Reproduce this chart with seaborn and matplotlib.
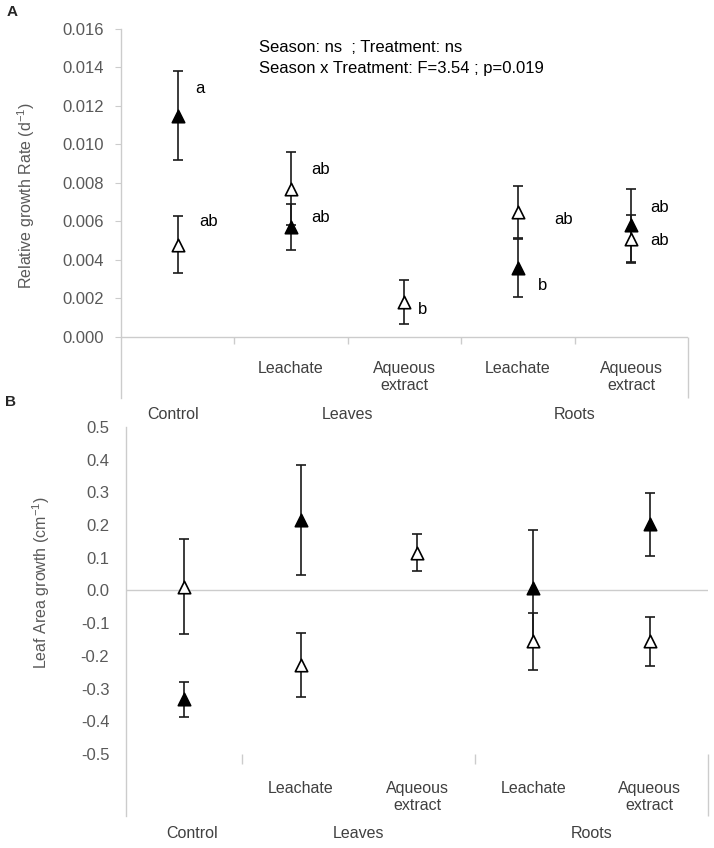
import numpy as np
import pandas as pd
import matplotlib
matplotlib.use("Agg")
import matplotlib.pyplot as plt
import matplotlib.transforms as mtrans
import seaborn as sns

sns.set_style("white")
plt.rcParams['font.family'] = ['Liberation Sans', 'DejaVu Sans']
plt.rcParams['mathtext.fontset'] = 'custom'
plt.rcParams['mathtext.rm'] = 'Liberation Sans'
plt.rcParams['axes.unicode_minus'] = False

# ---------------- data ----------------
sub_labels = ["", "Leachate", "Aqueous\nextract", "Leachate", "Aqueous\nextract"]
group_labels = ["Control", "Leaves", "Roots"]
positions = [0, 1, 2, 3, 4]

A_filled_mean = [0.0115, 0.0057, np.nan, 0.0036, 0.0058]
A_filled_se = [0.0023, 0.0012, np.nan, 0.0015, 0.0019]
A_open_mean = [0.0048, 0.0077, 0.0018, 0.0065, 0.0051]
A_open_se = [0.0015, 0.0019, 0.00115, 0.00135, 0.00125]

B_filled_mean = [-0.333, 0.215, np.nan, 0.006, 0.202]
B_filled_se = [0.053, 0.168, np.nan, 0.18, 0.097]
B_open_mean = [0.012, -0.229, 0.116, -0.156, -0.156]
B_open_se = [0.145, 0.098, 0.058, 0.087, 0.075]

A_letters = ["a", "ab", "ab", "ab", "b", "ab", "b", "ab", "ab"]
A_letter_xy = [(0.20, 0.0129), (0.27, 0.0060), (1.26, 0.0087), (1.26, 0.0062),
               (2.16, 0.00145), (3.40, 0.0061), (3.22, 0.00265),
               (4.25, 0.00675), (4.25, 0.0050)]

A_yticks = [0.000, 0.002, 0.004, 0.006, 0.008, 0.010, 0.012, 0.014, 0.016]
B_yticks = [-0.5, -0.4, -0.3, -0.2, -0.1, 0.0, 0.1, 0.2, 0.3, 0.4, 0.5]

W, H = 714, 848
fig = plt.figure(figsize=(W / 100, H / 100), dpi=100)

def fy(px):
    return 1 - px / H

axA = fig.add_axes([121 / W, fy(398), 567 / W, 369 / H])
axB = fig.add_axes([126 / W, fy(816), 582 / W, 389 / H])

tick_col = "#595959"
spine_col = "#cccccc"
lab_col = "#404040"

def draw_points(ax, fm, fs, om, os_):
    df_f = pd.DataFrame({"x": positions, "m": fm, "se": fs})
    df_o = pd.DataFrame({"x": positions, "m": om, "se": os_})
    for df in (df_o, df_f):
        d = df.dropna()
        ax.errorbar(d["x"], d["m"], yerr=d["se"], fmt="none", ecolor="#1a1a1a",
                    elinewidth=1.2, capsize=3.5, capthick=1.2, zorder=2)
    sns.scatterplot(data=df_o.dropna(), x="x", y="m", marker="^", s=80,
                    color="white", edgecolor="black", linewidth=1.2, ax=ax, zorder=3)
    sns.scatterplot(data=df_f.dropna(), x="x", y="m", marker="^", s=80,
                    color="black", edgecolor="black", linewidth=1.2, ax=ax, zorder=4)

def style_axes(ax, yticks, fmt, ylim, ticklen, pad):
    ax.set_xlim(-0.5, 4.5)
    ax.set_ylim(*ylim)
    ax.set_yticks(yticks)
    ax.set_yticklabels([fmt % v for v in yticks], fontsize=12, color=tick_col)
    ax.set_xticks([])
    ax.set_xlabel("")
    for s in ["top", "right", "bottom"]:
        ax.spines[s].set_visible(False)
    ax.spines["left"].set_color(spine_col)
    ax.spines["left"].set_linewidth(1.0)
    ax.tick_params(axis="y", length=ticklen, color=spine_col, pad=pad, left=True)
    ax.axhline(0, color=spine_col, lw=1.0, zorder=1)
    ax.set_facecolor("none")

def cat_labels(ax, sub_top_px, grp_top_px, ctrl_x):
    tr = mtrans.blended_transform_factory(ax.transData, fig.transFigure)
    for p, lab in zip(positions, sub_labels):
        if lab:
            ax.text(p, fy(sub_top_px), lab, transform=tr, ha="center", va="top",
                    fontsize=11.5, color=lab_col, linespacing=1.15, clip_on=False)
    for p, lab in zip([ctrl_x, 1.5, 3.5], group_labels):
        ax.text(p, fy(grp_top_px), lab, transform=tr, ha="center", va="top",
                fontsize=11.5, color=lab_col, clip_on=False)

# ---------------- panel A ----------------
draw_points(axA, A_filled_mean, A_filled_se, A_open_mean, A_open_se)
style_axes(axA, A_yticks, "%.3f", (-0.00317, 0.016), 4, 8)
axA.set_ylabel(r"Relative growth Rate (d$^{\mathregular{-1}}$)", fontsize=11.5, color=tick_col)
axA.yaxis.set_label_coords(-0.148, 0.55)
axA.vlines([0.5, 1.5, 2.5, 3.5], -0.00036, 0, color=spine_col, lw=1.0)
axA.vlines([4.5], -0.00317, 0, color=spine_col, lw=1.0, clip_on=False)
for lab, (x, y) in zip(A_letters, A_letter_xy):
    axA.text(x, y, lab, ha="center", va="center", fontsize=12, color="black")
axA.text(0.72, 0.01506, "Season: ns  ; Treatment: ns", ha="left", va="center",
         fontsize=12, color="black")
axA.text(0.72, 0.01397, "Season x Treatment: F=3.54 ; p=0.019", ha="left", va="center",
         fontsize=12, color="black")
cat_labels(axA, 361, 407, -0.04)

# ---------------- panel B ----------------
draw_points(axB, B_filled_mean, B_filled_se, B_open_mean, B_open_se)
style_axes(axB, B_yticks, "%.1f", (-0.69, 0.5), 0, 12)
axB.set_ylabel(r"Leaf Area growth (cm$^{\mathregular{-1}}$)", fontsize=11.5, color=tick_col)
axB.yaxis.set_label_coords(-0.127, 0.60)
axB.vlines([0.5, 2.5], -0.53, -0.5, color=spine_col, lw=1.0)
axB.vlines([4.5], -0.69, -0.5, color=spine_col, lw=1.0, clip_on=False)
cat_labels(axB, 781, 826, 0.07)

fig.text(12 / W, fy(12), "A", fontsize=11, fontweight="bold", ha="center", va="center")
fig.text(10 / W, fy(402), "B", fontsize=11, fontweight="bold", ha="center", va="center")

fig.savefig("out.png", dpi=100)
